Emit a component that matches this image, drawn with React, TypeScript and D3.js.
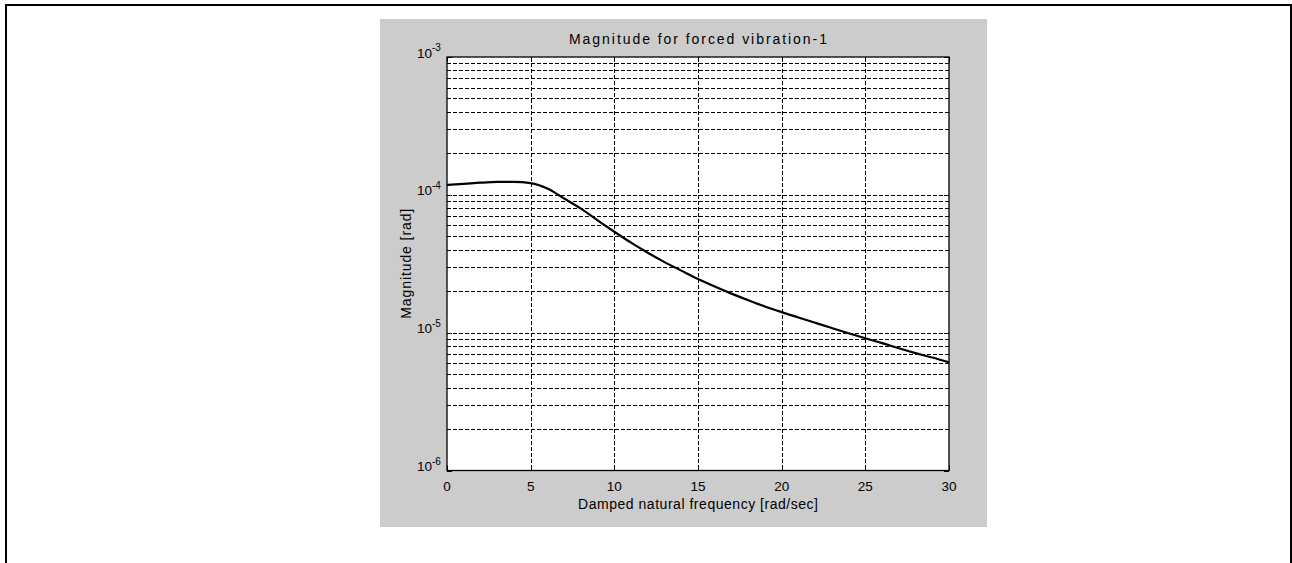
import React from "react";
import * as d3 from "d3";

const freq = [0,1,2,3,4,5,6,7,8,9,10,11,12,13,14,15,16,17,18,19,20,21,22,23,24,25,26,27,28,29,30];
const magnitude = [1.18e-4,1.20e-4,1.225e-4,1.24e-4,1.24e-4,1.215e-4,1.11e-4,9.4e-5,7.94e-5,6.53e-5,5.4e-5,4.5e-5,3.8e-5,3.25e-5,2.82e-5,2.45e-5,2.16e-5,1.92e-5,1.72e-5,1.55e-5,1.41e-5,1.29e-5,1.18e-5,1.08e-5,9.9e-6,9.1e-6,8.4e-6,7.7e-6,7.1e-6,6.6e-6,6.1e-6];
const xTicks = [0,5,10,15,20,25,30];
const yDecades = [-6,-5,-4,-3];
const title = "Magnitude for forced vibration-1";
const xLabel = "Damped natural frequency [rad/sec]";
const yLabel = "Magnitude [rad]";

export default function App() {
  const L = 447, R = 949, T = 57, B = 470.5;
  const x = d3.scaleLinear().domain([0, 30]).range([L, R]);
  const y = d3.scaleLog().domain([1e-6, 1e-3]).range([B, T]);
  const minor: number[] = [];
  for (let e = -6; e < -3; e++) {
    for (let m = 1; m <= 9; m++) {
      const v = m * Math.pow(10, e);
      if (v > 1e-6 && v < 1e-3) minor.push(v);
    }
  }
  const line = d3.line<number>().x((_, i) => x(freq[i])).y((d) => y(d)).curve(d3.curveMonotoneX);
  const crisp = (v: number) => Math.round(v) + 0.5;
  const font = "'Liberation Sans', Arial, Helvetica, sans-serif";
  return (
    <svg width={1292} height={563} style={{ position: "absolute", left: 0, top: 0 }} fontFamily={font}>
      <rect x={0} y={0} width={1292} height={563} fill="#fff" />
      <rect x={6} y={5} width={1285} height={620} fill="none" stroke="#000" strokeWidth={2} />
      <rect x={380} y={19} width={607} height={508} fill="#cccccc" />
      <rect x={L} y={T} width={R - L} height={B - T} fill="#fff" />
      {minor.map((v, i) => (
        <line key={"hy" + i} x1={L} x2={R} y1={crisp(y(v))} y2={crisp(y(v))} stroke="#000" strokeWidth={1} strokeDasharray="4,2" />
      ))}
      {xTicks.slice(1, -1).map((t) => (
        <line key={"vx" + t} x1={crisp(x(t))} x2={crisp(x(t))} y1={T} y2={B} stroke="#000" strokeWidth={1} strokeDasharray="4,2" />
      ))}
      {xTicks.map((t) => (
        <g key={"tx" + t}>
          <line x1={crisp(x(t))} x2={crisp(x(t))} y1={B} y2={B - 5} stroke="#000" />
          <line x1={crisp(x(t))} x2={crisp(x(t))} y1={T} y2={T + 5} stroke="#000" />
          <text x={x(t)} y={491} fontSize={13.5} textAnchor="middle" fill="#000">{t}</text>
        </g>
      ))}
      {minor.map((v, i) => (
        <g key={"ty" + i}>
          <line x1={L} x2={L + 3} y1={crisp(y(v))} y2={crisp(y(v))} stroke="#000" />
          <line x1={R} x2={R - 3} y1={crisp(y(v))} y2={crisp(y(v))} stroke="#000" />
        </g>
      ))}
      {yDecades.map((e) => (
        <g key={"yd" + e}>
          <line x1={L} x2={L + 5} y1={crisp(y(Math.pow(10, e)))} y2={crisp(y(Math.pow(10, e)))} stroke="#000" />
          <line x1={R} x2={R - 5} y1={crisp(y(Math.pow(10, e)))} y2={crisp(y(Math.pow(10, e)))} stroke="#000" />
          <text x={432} y={y(Math.pow(10, e)) + 0.5} fontSize={13.5} textAnchor="end" fill="#000">10</text>
          <text x={432} y={y(Math.pow(10, e)) - 6} fontSize={10} textAnchor="start" fill="#000">{e}</text>
        </g>
      ))}
      <path d={line(magnitude) || ""} fill="none" stroke="#000" strokeWidth={2.2} />
      <rect x={L} y={T} width={R - L} height={B - T} fill="none" stroke="#000" strokeWidth={1.3} />
      <text x={(L + R) / 2} y={44} fontSize={14} textAnchor="middle" fill="#000" textLength={258} lengthAdjust="spacing">{title}</text>
      <text x={(L + R) / 2} y={509} fontSize={14} textAnchor="middle" fill="#000" textLength={240} lengthAdjust="spacing">{xLabel}</text>
      <text transform={`translate(411, ${(T + B) / 2}) rotate(-90)`} fontSize={14} textAnchor="middle" fill="#000" textLength={110} lengthAdjust="spacing">{yLabel}</text>
    </svg>
  );
}
